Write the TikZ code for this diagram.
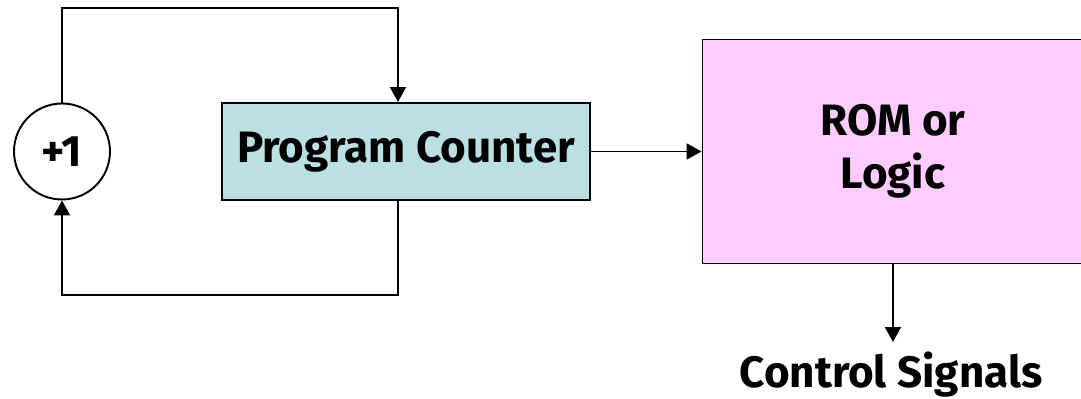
\documentclass[tikz,border=0pt]{standalone}
\usepackage{fontspec}
\setmainfont{Fira Sans}
\usetikzlibrary{arrows.meta}
\definecolor{pcblue}{HTML}{BBE0E3}
\definecolor{rompink}{HTML}{FFCCFF}
\begin{document}
\begin{tikzpicture}[
  line width=1.1pt,
  >={Triangle[length=0.3cm,width=0.32cm]},
  every node/.style={font=\fontsize{25}{30}\selectfont\bfseries},
  block/.style={draw,rectangle,inner sep=0pt},
  adder/.style={draw,circle,minimum size=1.92cm,inner sep=0pt}
]
  \useasboundingbox (0,0) rectangle (21.62,7.98);
  \node[adder] (inc) at (1.24,4.95) {+1};
  \node[block,fill=pcblue,minimum width=7.36cm,minimum height=1.94cm] (pc) at (8.12,4.95) {Program Counter};
  \node[block,fill=rompink,minimum width=7.62cm,minimum height=4.48cm,align=center] (rom) at (17.86,4.95) {ROM or\\Logic};
  \node[inner sep=0pt,text height=0.9cm,anchor=base] (sig) at (17.82,0.22) {Control Signals};
  \coordinate (top) at (7.96,7.82);
  \coordinate (bot) at (7.96,2.08);
  % loop through the adder
  \draw[->] (inc.north) |- (top) -- (top |- pc.north);
  \draw[->] (bot |- pc.south) -- (bot) -| (inc.south);
  % forward path
  \draw[->] (pc) -- (rom);
  \draw[->] (rom.south) -- (rom.south |- sig.north);
\end{tikzpicture}
\end{document}
